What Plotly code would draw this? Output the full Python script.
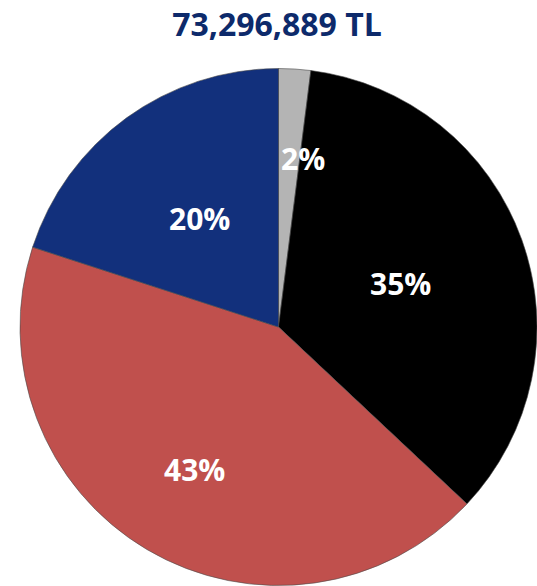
import math
import plotly.graph_objects as go

# Share of the total, clockwise from 12 o'clock
segments = ["Gri", "Siyah", "Kırmızı", "Mavi"]
shares = [2, 35, 43, 20]
total_label = "73,296,889 TL"

# Styling
colors = ["#b4b4b4", "#000000", "#c0504d", "#12307c"]
label_radius = [0.66, 0.50, 0.64, 0.52]   # label distance from centre, as a fraction of the radius
label_turn = [4.5, 0.0, 0.0, 0.0]         # extra clockwise turn of each label, degrees

W, H = 537, 586
dom_x = [20 / W, 1.0]
dom_y = [0.0, (H - 68) / H]

fig = go.Figure(
    go.Pie(
        labels=segments,
        values=shares,
        sort=False,
        direction="clockwise",
        rotation=0,
        marker=dict(colors=colors, line=dict(color="#4a4a4a", width=0.6)),
        textinfo="none",
        hoverinfo="label+percent",
        showlegend=False,
        domain=dict(x=dom_x, y=dom_y),
    )
)

# Percentage labels placed along each slice's bisector
cx = (dom_x[0] + dom_x[1]) / 2
cy = (dom_y[0] + dom_y[1]) / 2
r_px = min((dom_x[1] - dom_x[0]) * W, (dom_y[1] - dom_y[0]) * H) / 2
total = sum(shares)
start = 0.0
for value, frac, turn in zip(shares, label_radius, label_turn):
    mid = (start + value / 2) / total * 2 * math.pi + math.radians(turn)
    start += value
    x = cx + frac * r_px * math.sin(mid) / W
    y = cy + frac * r_px * math.cos(mid) / H
    fig.add_annotation(
        x=x, y=y, xref="paper", yref="paper",
        xanchor="center", yanchor="middle",
        text=f"{round(value / total * 100)}%",
        showarrow=False,
        font=dict(family="Open Sans", size=30, color="white", weight="bold"),
    )

fig.update_layout(
    width=W,
    height=H,
    margin=dict(l=0, r=0, t=0, b=0),
    paper_bgcolor="white",
    plot_bgcolor="white",
    title=dict(
        text=total_label,
        x=277 / W,
        xanchor="center",
        y=1 - 25 / H,
        yanchor="middle",
        font=dict(family="Open Sans", size=32, color="#0d2a6b", weight="bold"),
    ),
)

fig.write_html("out.html")
